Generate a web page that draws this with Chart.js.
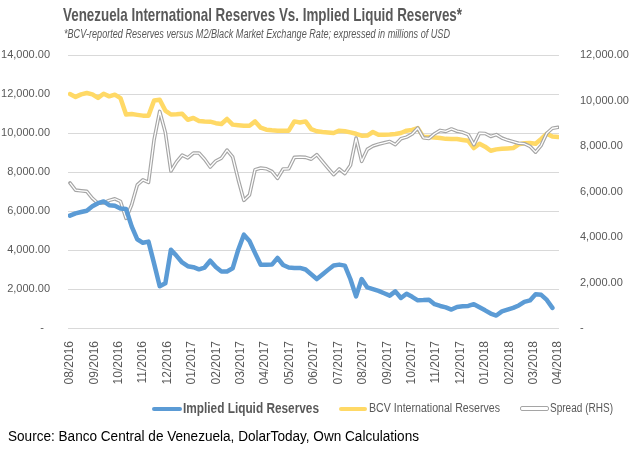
<!DOCTYPE html>
<html lang="en">
<head>
<meta charset="UTF-8">
<title>Venezuela International Reserves</title>
<script src="https://cdn.jsdelivr.net/npm/chart.js@4.4.0/dist/chart.umd.min.js"></script>
<style>
  body { margin: 0; background: #fff; }
  #wrap { position: relative; width: 630px; height: 452px; overflow: hidden;
          font-family: "Liberation Sans Narrow", "Liberation Sans", sans-serif; color: #595959; }
  #chart { position: absolute; left: 0; top: 0; }
  .t { position: absolute; white-space: nowrap; transform-origin: 0 0; line-height: 1; }
  .key { position: absolute; height: 4px; }
</style>
</head>
<body>
<div id="wrap">
  <canvas id="chart" width="630" height="452"></canvas>
  <span class="t" data-w="399" style="left:63px;top:5px;font-size:19px;font-weight:bold;">Venezuela International Reserves Vs. Implied Liquid Reserves*</span>
  <span class="t" data-w="386" style="left:64px;top:28px;font-size:12px;font-style:italic;">*BCV-reported Reserves versus M2/Black Market Exchange Rate; expressed in millions of USD</span>

  <div class="key" style="left:152px;top:407px;width:30px;background:#5b9bd5;border-radius:2px;"></div>
  <span class="t" data-w="136" style="left:183px;top:401px;font-size:14px;font-weight:bold;">Implied Liquid Reserves</span>
  <div class="key" style="left:339px;top:407px;width:28px;background:#ffd966;border-radius:2px;"></div>
  <span class="t" data-w="131" style="left:369px;top:402px;font-size:12px;">BCV International Reserves</span>
  <div class="key" style="left:520px;top:406px;width:27px;height:3px;border:1px solid #a5a5a5;border-radius:2px;background:#fff;"></div>
  <span class="t" data-w="63" style="left:550px;top:402px;font-size:12px;">Spread (RHS)</span>

  <span class="t" data-w="411" style="left:8px;top:429px;font-size:14px;color:#000;">Source: Banco Central de Venezuela, DolarToday, Own Calculations</span>
</div>

<script>
// month tick labels
const months = ['08/2016', '09/2016', '10/2016', '11/2016', '12/2016', '01/2017', '02/2017',
  '03/2017', '04/2017', '05/2017', '06/2017', '07/2017', '08/2017', '09/2017', '10/2017',
  '11/2017', '12/2017', '01/2018', '02/2018', '03/2018', '04/2018'];

// weekly values, millions of USD (Aug 2016 - Apr 2018)
const implied = [5760, 5880, 5950, 6015, 6240, 6400, 6490, 6300, 6270, 6130,
  6100, 5210, 4550, 4370, 4430, 3300, 2140, 2290, 4015, 3700,
  3360, 3170, 3120, 3010, 3100, 3450, 3130, 2900, 2900, 3060,
  4015, 4785, 4460, 3840, 3245, 3245, 3250, 3590, 3230, 3100,
  3080, 3080, 3000, 2760, 2510, 2740, 2980, 3210, 3250, 3200,
  2500, 1620, 2510, 2080, 1990, 1900, 1780, 1660, 1880, 1540,
  1760, 1600, 1420, 1430, 1450, 1220, 1130, 1060, 945, 1080,
  1110, 1130, 1220, 1060, 905, 740, 640, 850, 940, 1030,
  1155, 1340, 1415, 1730, 1700, 1440, 1030, null];

const bcv = [12000, 11850, 11980, 12050, 11980, 11800, 12015, 11880, 11965, 11790,
  10950, 10975, 10930, 10890, 10890, 11670, 11710, 11150, 10950, 10960,
  10990, 10680, 10770, 10620, 10595, 10580, 10505, 10460, 10720, 10430,
  10400, 10375, 10375, 10595, 10270, 10170, 10140, 10120, 10120, 10120,
  10595, 10540, 10595, 10200, 10090, 10050, 10030, 10000, 10120, 10090,
  10030, 9960, 9860, 9870, 10050, 9910, 9910, 9920, 9950, 10000,
  10120, 10160, 10250, 9800, 9795, 9770, 9745, 9700, 9690, 9690,
  9645, 9600, 9230, 9450, 9300, 9090, 9160, 9190, 9210, 9230,
  9420, 9470, 9485, 9450, 9700, 9965, 9825, 9795];

const spread = [6375, 6060, 6030, 6005, 5700, 5480, 5500, 5610, 5680, 5570,
  4820, 5420, 6290, 6510, 6400, 8280, 9520, 8600, 6900, 7300,
  7600, 7480, 7690, 7690, 7420, 7075, 7340, 7470, 7820, 7520,
  6520, 5610, 5850, 6960, 7030, 7000, 6880, 6580, 6990, 7000,
  7500, 7515, 7500, 7420, 7620, 7320, 7030, 6740, 6990, 6790,
  7150, 8350, 7325, 7850, 8000, 8080, 8140, 8200, 8060, 8320,
  8390, 8530, 8790, 8360, 8330, 8540, 8685, 8640, 8750, 8650,
  8600, 8500, 8060, 8560, 8550, 8420, 8500, 8350, 8260, 8190,
  8120, 8100, 7985, 7730, 8030, 8560, 8780, 8820];

// weeks placed along the month axis
const span = months.length - 1;
const toPoints = arr => arr.map((v, i) => ({ x: i * span / (arr.length - 1), y: v }));

const money = v => v.toLocaleString('en-US', { minimumFractionDigits: 2, maximumFractionDigits: 2 });

// white core stroked over the grey line -> Excel "double" line
const doubleLine = {
  id: 'doubleLine',
  afterDatasetDraw(chart, args) {
    const ds = chart.data.datasets[args.index];
    if (!ds.doubleCore) return;
    const ctx = chart.ctx;
    const pts = args.meta.data;
    ctx.save();
    ctx.beginPath();
    pts.forEach((p, i) => i ? ctx.lineTo(p.x, p.y) : ctx.moveTo(p.x, p.y));
    ctx.strokeStyle = '#fff';
    ctx.lineWidth = 1.3;
    ctx.lineJoin = 'round';
    ctx.stroke();
    ctx.restore();
  }
};

new Chart(document.getElementById('chart'), {
  type: 'line',
  data: {
    datasets: [
      { label: 'Implied Liquid Reserves', data: toPoints(implied), borderColor: '#5b9bd5',
        borderWidth: 4.5, yAxisID: 'y', order: 0 },
      { label: 'BCV International Reserves', data: toPoints(bcv), borderColor: '#ffd966',
        borderWidth: 4.5, yAxisID: 'y', order: 2 },
      { label: 'Spread (RHS)', data: toPoints(spread), borderColor: '#a5a5a5',
        borderWidth: 3.6, yAxisID: 'y2', order: 1, doubleCore: true }
    ]
  },
  options: {
    responsive: false,
    animation: false,
    layout: { padding: { top: 55, bottom: 64, left: 0, right: 0 } },
    elements: {
      point: { radius: 0 },
      line: { tension: 0, borderJoinStyle: 'round', borderCapStyle: 'round' }
    },
    plugins: { legend: { display: false }, tooltip: { enabled: false } },
    scales: {
      x: {
        type: 'linear', min: -0.08, max: span + 0.04,
        afterBuildTicks: s => { s.ticks = months.map((m, i) => ({ value: i })); },
        afterFit: s => { s.height = 60; },
        ticks: { autoSkip: false, minRotation: 90, maxRotation: 90, padding: 5,
                 color: '#595959', font: { family: 'Liberation Sans', size: 12 },
                 callback: v => months[v] },
        grid: { display: false },
        border: { display: false }
      },
      y: {
        position: 'left', min: 0, max: 14000,
        afterFit: s => { s.width = 68; },
        ticks: { stepSize: 2000, padding: 18, color: '#595959',
                 font: { family: 'Liberation Sans', size: 11 },
                 callback: v => v === 0 ? '-  ' : money(v) },
        grid: { color: '#d9d9d9', drawTicks: false },
        border: { display: false }
      },
      y2: {
        position: 'right', min: 0, max: 12000,
        afterFit: s => { s.width = 71; },
        ticks: { stepSize: 2000, padding: 13, color: '#595959',
                 font: { family: 'Liberation Sans', size: 11 },
                 callback: v => v === 0 ? '-' : money(v) },
        grid: { display: false },
        border: { display: false }
      }
    }
  },
  plugins: [doubleLine]
});

// squeeze text to the widths of the reference
document.querySelectorAll('.t').forEach(el => {
  const w = el.getBoundingClientRect().width;
  const target = +el.dataset.w;
  if (w > 0) el.style.transform = 'scaleX(' + (target / w) + ')';
});
</script>
</body>
</html>
